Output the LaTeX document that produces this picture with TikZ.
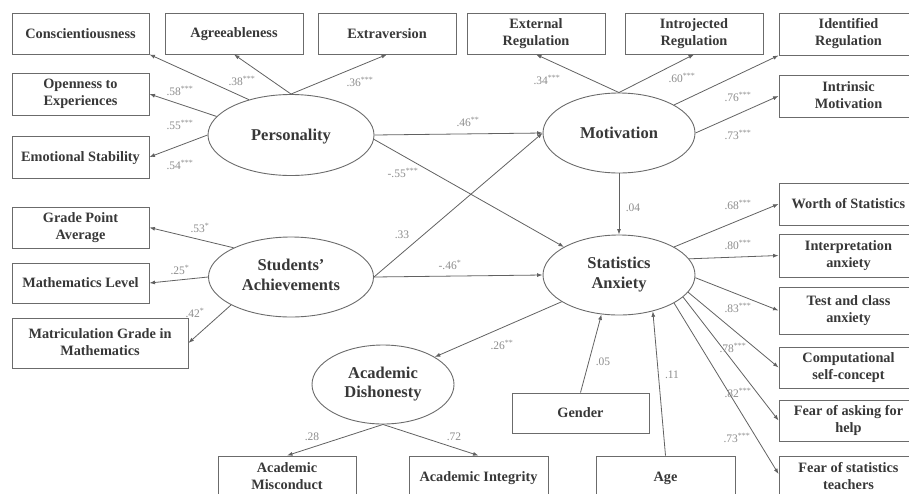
\documentclass[tikz,border=0pt]{standalone}
\usepackage{fontspec}
\setmainfont{Liberation Serif}
\usetikzlibrary{arrows.meta,shapes.geometric}
\definecolor{boxc}{gray}{0.42}
\definecolor{linec}{gray}{0.38}
\definecolor{txtc}{gray}{0.22}
\definecolor{lblc}{gray}{0.55}
\newcommand\myboxfont{\fontsize{14.3}{17}\selectfont\bfseries}
\newcommand\mylatfont{\fontsize{16.5}{19.5}\selectfont\bfseries}
\newcommand\mylblfont{\fontsize{11.5}{13}\selectfont}
\newcommand\st[1]{\textsuperscript{#1}}
\newcommand\btop{\rule{0pt}{11.5pt}}
\newcommand\bbot{\rule[-2.5pt]{0pt}{2.5pt}}
\newcommand\ltop{\rule{0pt}{15.5pt}}
\newcommand\lbot{\rule[-4.5pt]{0pt}{4.5pt}}
\begin{document}
\begin{tikzpicture}[x=1pt,y=-1pt,
  box/.style={draw=boxc,line width=0.9pt,fill=white,inner sep=0pt,align=center,font=\myboxfont,text=txtc,minimum width=137pt,minimum height=41pt,execute at begin node={\btop},execute at end node={\bbot}},
  lat/.style={draw=boxc,ellipse,line width=0.9pt,inner sep=0pt,align=center,font=\mylatfont,text=txtc,execute at begin node={\ltop},execute at end node={\lbot}},
  lbl/.style={font=\mylblfont,text=lblc,inner sep=0pt},
  arr/.style={draw=linec,line width=0.8pt,-{Latex[length=5.5pt,width=4pt]}}]
\useasboundingbox (0,0) rectangle (909,493);
\clip (0,0) rectangle (909,493);
% latent variables
\node[lat,minimum width=166pt,minimum height=81pt] (pers) at (291,135) {Personality};
\node[lat,minimum width=152pt,minimum height=80pt] (mot) at (619,133) {Motivation};
\node[lat,minimum width=165pt,minimum height=80pt] (sa) at (291,277) {Students'\\Achievements};
\node[lat,minimum width=152pt,minimum height=80pt] (stats) at (619,275) {Statistics\\Anxiety};
\node[lat,minimum width=142pt,minimum height=79pt] (ad) at (383,384.5) {Academic\\Dishonesty};
% personality indicators
\node[box] (consc) at (80.5,33.5) {Conscientiousness};
\node[box,minimum width=138pt] (agree) at (234,33.5) {Agreeableness};
\node[box,minimum width=138pt] (extra) at (387,33.5) {Extraversion};
\node[box,minimum height=42pt] (open) at (80.5,94) {Openness to\\Experiences};
\node[box,minimum height=42pt] (emo) at (80.5,157) {Emotional Stability};
% motivation indicators
\node[box,minimum width=138pt] (ext) at (536,33.5) {External\\Regulation};
\node[box,minimum width=138pt] (intro) at (694,33.5) {Introjected\\Regulation};
\node[box,minimum width=139pt,minimum height=42pt] (ident) at (848.5,34) {Identified\\Regulation};
\node[box,minimum width=139pt,minimum height=42pt] (intr) at (848.5,96) {Intrinsic\\Motivation};
% achievement indicators
\node[box] (gpa) at (80.5,227.5) {Grade Point\\Average};
\node[box,minimum height=40pt] (ml) at (80.5,283) {Mathematics Level};
\node[box,minimum width=176pt,minimum height=50pt] (mat) at (100,343) {Matriculation Grade in\\Mathematics};
% anxiety indicators
\node[box,minimum width=139pt,minimum height=42pt] (worth) at (848.5,204) {Worth of Statistics};
\node[box,minimum width=139pt,minimum height=43pt] (interp) at (848.5,255.5) {Interpretation\\anxiety};
\node[box,minimum width=139pt,minimum height=47pt] (test) at (848.5,310.5) {Test and class\\anxiety};
\node[box,minimum width=139pt] (comp) at (848.5,367.5) {Computational\\self-concept};
\node[box,minimum width=139pt] (fask) at (848.5,420.5) {Fear of asking for\\help};
\node[box,minimum width=139pt,minimum height=42pt] (fteach) at (848.5,477) {Fear of statistics\\teachers};
% covariates
\node[box,minimum height=40pt] (gender) at (580.5,413) {Gender};
\node[box,minimum width=139pt,minimum height=42pt] (age) at (665.5,477) {Age};
% dishonesty indicators
\node[box,minimum width=138pt,minimum height=42pt] (misc) at (287,477) {Academic\\Misconduct};
\node[box,minimum width=139pt,minimum height=42pt] (integ) at (478.5,477) {Academic Integrity};
% connectors
\draw[arr] (pers.140) -- (consc.south east);
\draw[arr] (pers.north) -- (agree.south);
\draw[arr] (pers.north) -- (extra.south);
\draw[arr] (pers.166.8) -- (open.east);
\draw[arr] (pers.west) -- (emo.east);
\draw[arr] (mot.north) -- (ext.south);
\draw[arr] (mot.north) -- (intro.south);
\draw[arr] (mot.27.4) -- (ident.south west);
\draw[arr] (mot.east) -- (intr.west);
\draw[arr] (pers.east) -- (mot.west);
\draw[arr] (pers.-3) -- (stats.153);
\draw[arr] (sa.153.8) -- (gpa.east);
\draw[arr] (sa.west) -- (ml.east);
\draw[arr] (sa.205.4) -- (mat.east);
\draw[arr] (sa.east) -- (mot.west);
\draw[arr] (sa.east) -- (stats.west);
\draw[arr] (mot.south) -- (stats.north);
\draw[arr] (stats.27.4) -- (worth.west);
\draw[arr] (stats.13) -- (interp.west);
\draw[arr] (stats.-2) -- (test.west);
\draw[arr] (stats.-14.6) -- (comp.west);
\draw[arr] (stats.-19.8) -- (fask.west);
\draw[arr] (stats.-27.4) -- ([yshift=3pt]fteach.west);
\draw[arr] (gender.north) -- (stats.246.4);
\draw[arr] (age.north) -- (stats.-47.5);
\draw[arr] (stats.205.7) -- (ad.28.3);
\draw[arr] (ad.south) -- (misc.north);
\draw[arr] (ad.south) -- (integ.north);
% labels
\node[lbl] (l1) at (242,81) {.38\st{***}};
\node[lbl] (l2) at (360,82) {.36\st{***}};
\node[lbl] (l3) at (180,91) {.58\st{***}};
\node[lbl] (l4) at (180,125) {.55\st{***}};
\node[lbl] (l5) at (180,165) {.54\st{***}};
\node[lbl] (l6) at (403,173) {-.55\st{***}};
\node[lbl] (l7) at (468,122) {.46\st{**}};
\node[lbl] (l8) at (547,80) {.34\st{***}};
\node[lbl] (l9) at (682,78) {.60\st{***}};
\node[lbl] (l10) at (738,97) {.76\st{***}};
\node[lbl] (l11) at (738,135) {.73\st{***}};
\node[lbl] (l12) at (200,228) {.53\st{*}};
\node[lbl] (l13) at (180,270) {.25\st{*}};
\node[lbl] (l14) at (195,313) {.42\st{*}};
\node[lbl] (l15) at (402,235) {.33};
\node[lbl] (l16) at (450,265) {-.46\st{*}};
\node[lbl] (l17) at (633,208) {.04};
\node[lbl] (l18) at (738,205) {.68\st{***}};
\node[lbl] (l19) at (738,245) {.80\st{***}};
\node[lbl] (l20) at (738,308) {.83\st{***}};
\node[lbl] (l21) at (733,348) {.78\st{***}};
\node[lbl] (l22) at (738,393) {.82\st{***}};
\node[lbl] (l23) at (737,438) {.73\st{***}};
\node[lbl] (l24) at (502,345) {.26\st{**}};
\node[lbl] (l25) at (603,362) {.05};
\node[lbl] (l26) at (672,375) {.11};
\node[lbl] (l27) at (312,437) {.28};
\node[lbl] (l28) at (454,437) {.72};
\end{tikzpicture}
\end{document}
